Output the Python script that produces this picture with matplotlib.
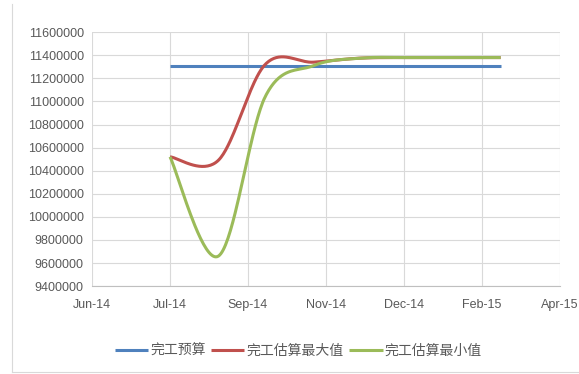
import numpy as np
import pandas as pd
import matplotlib
matplotlib.use('Agg')
from matplotlib import pyplot as plt
import matplotlib.dates as mdates

# 月末数据
dates = pd.to_datetime(['2014-07-31', '2014-08-31', '2014-09-30', '2014-10-31',
                        '2014-11-30', '2014-12-31', '2015-01-31', '2015-02-28'])
budget = [11310000, 11310000, 11310000, 11310000, 11310000, 11310000, 11310000, 11310000]
eac_max = [10520000, 10490000, 11320000, 11340000, 11375000, 11380000, 11380000, 11380000]
eac_min = [10520000, 9660000, 11040000, 11310000, 11375000, 11380000, 11380000, 11380000]
series_names = ['完工预算', '完工估算最大值', '完工估算最小值']

tick_dates = pd.date_range('2014-06-11', periods=7, freq='50D')
y_ticks = list(range(9400000, 11600001, 200000))

colors = ['#4F81BD', '#C0504D', '#9BBB59']


def smooth(x, y, n=40):
    # 类似Excel平滑线: Catmull-Rom 三次贝塞尔
    x = np.asarray(x, dtype=float)
    y = np.asarray(y, dtype=float)
    px = np.concatenate([[x[0]], x, [x[-1]]])
    py = np.concatenate([[y[0]], y, [y[-1]]])
    xs, ys = [], []
    t = np.linspace(0, 1, n)
    for i in range(1, len(px) - 2):
        p0x, p1x, p2x, p3x = px[i - 1:i + 3]
        p0y, p1y, p2y, p3y = py[i - 1:i + 3]
        c1x = p1x + (p2x - p0x) / 6
        c1y = p1y + (p2y - p0y) / 6
        c2x = p2x - (p3x - p1x) / 6
        c2y = p2y - (p3y - p1y) / 6
        bx = (1 - t) ** 3 * p1x + 3 * (1 - t) ** 2 * t * c1x + 3 * (1 - t) * t ** 2 * c2x + t ** 3 * p2x
        by = (1 - t) ** 3 * p1y + 3 * (1 - t) ** 2 * t * c1y + 3 * (1 - t) * t ** 2 * c2y + t ** 3 * p2y
        xs.append(bx)
        ys.append(by)
    return np.concatenate(xs), np.concatenate(ys)


plt.rcParams['font.family'] = ['Liberation Sans', 'Noto Sans CJK SC', 'DejaVu Sans']

fig = plt.figure(figsize=(5.79, 3.74), dpi=100)
ax = fig.add_axes([0.159, 0.235, 0.808, 0.679])

x_num = mdates.date2num(dates)
for vals, name, c in zip([budget, eac_max, eac_min], series_names, colors):
    sx, sy = smooth(x_num, vals)
    ax.plot(sx, sy, color=c, lw=2.2, label=name, solid_capstyle='butt')

tick_num = mdates.date2num(tick_dates)
ax.set_xticks(tick_num)
ax.set_xticklabels([d.strftime('%b-%y') for d in tick_dates])
ax.set_xlim(tick_num[0], tick_num[-1])
ax.set_yticks(y_ticks)
ax.set_yticklabels([str(v) for v in y_ticks])
ax.set_ylim(y_ticks[0], y_ticks[-1])

ax.grid(True, color='#D9D9D9', lw=0.8)
ax.set_axisbelow(True)
for s in ['top', 'right', 'left']:
    ax.spines[s].set_visible(False)
ax.spines['bottom'].set_color('#BFBFBF')
ax.tick_params(length=0, labelsize=9, colors='#595959', pad=6)
ax.tick_params(axis='x', pad=9)

leg = fig.legend(loc='center', bbox_to_anchor=(0.515, 0.062), ncol=3, frameon=False,
                 handlelength=2.4, columnspacing=0.4, handletextpad=0.15,
                 prop={'family': ['Noto Sans CJK SC', 'DejaVu Sans'], 'size': 10})
for t in leg.get_texts():
    t.set_color('#595959')

# 图表区边框
fig.add_artist(plt.Line2D([0.021, 0.021], [0.005, 0.99], color='#D9D9D9', lw=0.8,
                          transform=fig.transFigure))
fig.add_artist(plt.Line2D([0.021, 1.0], [0.005, 0.005], color='#D9D9D9', lw=0.8,
                          transform=fig.transFigure))

plt.savefig('out.png', dpi=100)
